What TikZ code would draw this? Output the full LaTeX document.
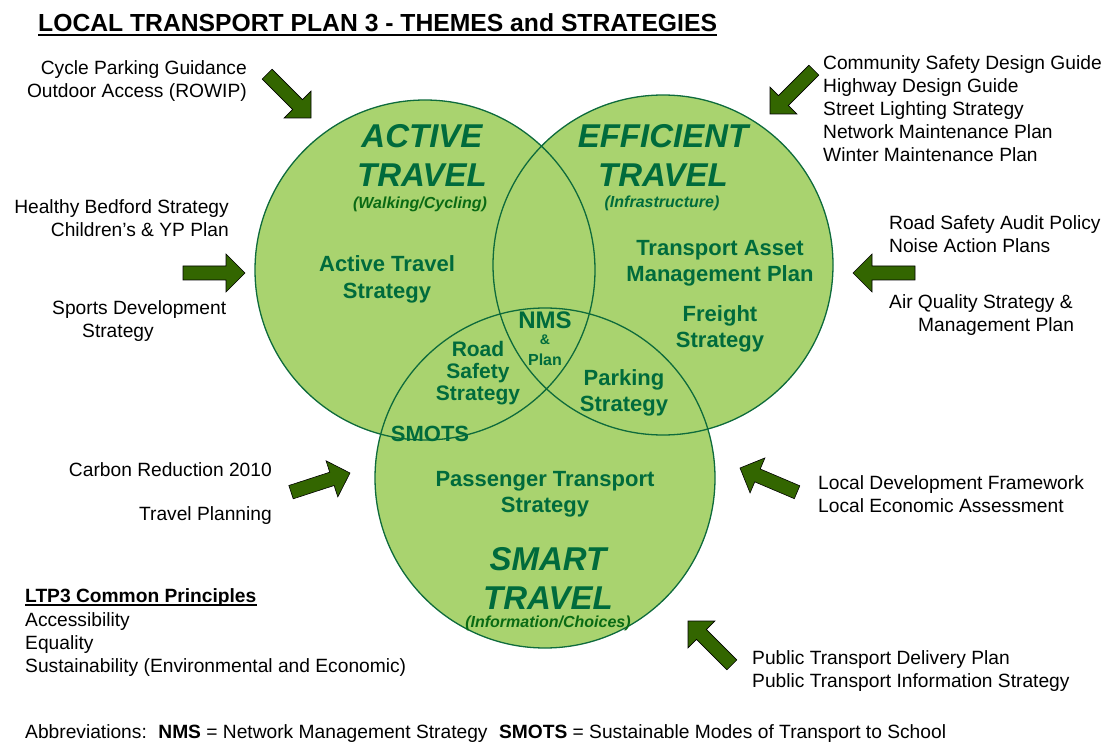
\documentclass[tikz,border=0pt]{standalone}
\usepackage{fontspec}
\setmainfont{Liberation Sans}
\definecolor{circlefill}{HTML}{A9D36F}
\definecolor{circleline}{HTML}{0E6B3C}
\definecolor{themegreen}{HTML}{006B3C}
\definecolor{subgreen}{HTML}{0A6A14}
\definecolor{arrowfill}{HTML}{336600}

\begin{document}
\begin{tikzpicture}[x=1pt, y=-1pt,
    theme/.style = {font=\fontsize{33}{39}\selectfont\bfseries\itshape, text=themegreen, align=center, inner sep=0},
    subtheme/.style = {font=\fontsize{16}{19}\selectfont\bfseries\itshape, inner sep=0},
    strategy/.style = {font=\fontsize{22}{26.5}\selectfont\bfseries, text=themegreen, align=center, inner sep=0},
    plain/.style = {font=\fontsize{19.2}{23}\selectfont, inner sep=0},
    bigarrow/.style = {fill=arrowfill, draw=black, line width=0.6}]
    \useasboundingbox (0,0) rectangle (1111,743);

    % the three circles
    \fill[circlefill] (425,270) circle (170) (663,265) circle (170) (545,478) circle (170);
    \draw[circleline, line width=1.3] (425,270) circle (170) (663,265) circle (170) (545,478) circle (170);

    % the block arrows: tip x / tip y / angle
    \foreach \tx/\ty/\ang in {311/118/-45, 245/273/0, 770/114/-135, 853/273/180,
                              350/473/18, 740/468/157, 688/621/135}
        \draw[bigarrow, shift={(\tx,\ty)}, rotate=\ang]
            (0,0) -- (-19,-19) -- (-19,-7) -- (-62,-7) -- (-62,7) -- (-19,7) -- (-19,19) -- cycle;

    % heading
    \node[anchor=west, inner sep=0, font=\fontsize{24.7}{29}\selectfont\bfseries] (title) at (38,23)
        {LOCAL TRANSPORT PLAN 3 - THEMES and STRATEGIES};
    \draw[line width=2] ([yshift=-3]title.base west) -- ([yshift=-3]title.base east);

    % themes
    \node[theme] (active) at (422,155) {ACTIVE\\TRAVEL};
    \node[subtheme, text=subgreen] (activesub) at (420,204) {(Walking/Cycling)};
    \node[theme] (efficient) at (663,155) {EFFICIENT\\TRAVEL};
    \node[subtheme, text=themegreen] (efficientsub) at (662,203) {(Infrastructure)};
    \node[theme] (smart) at (548,578.5) {SMART\\TRAVEL};
    \node[subtheme, text=subgreen] (smartsub) at (548,623) {(Information/Choices)};

    % strategies
    \node[strategy] (ats) at (387,279.5) {Active Travel\\Strategy};
    \node[strategy] (tamp) at (720,263.5) {Transport Asset\\Management Plan};
    \node[strategy] (freight) at (720,329) {Freight\\Strategy};
    \node[strategy] (parking) at (624,393) {Parking\\Strategy};
    \node[strategy] (pts) at (545,494.5) {Passenger Transport\\Strategy};
    \node[strategy, font=\fontsize{21}{22}\selectfont\bfseries] (rss) at (478,373) {Road\\Safety\\Strategy};
    \node[strategy] (smots) at (430,434) {SMOTS};
    \node[strategy, font=\fontsize{24}{26}\selectfont\bfseries] (nms) at (545,320) {NMS};
    \node[strategy, font=\fontsize{14}{16}\selectfont\bfseries] (amp) at (545,340) {\&};
    \node[strategy, font=\fontsize{16}{18}\selectfont\bfseries] (nmsplan) at (545,360) {Plan};

    % related plans and policies
    \node[plain, anchor=east, align=right] (cycle) at (247,81.5) {Cycle Parking Guidance\\Outdoor Access (ROWIP)};
    \node[plain, anchor=east, align=right] (healthy) at (229,218.5) {Healthy Bedford Strategy\\Children’s \& YP Plan};
    \node[plain, anchor=west, align=left] (sports) at (52,321.5) {Sports Development\\\hspace*{30pt}Strategy};
    \node[plain, anchor=east] (carbon) at (272,470) {Carbon Reduction 2010};
    \node[plain, anchor=east] (travelplan) at (272,516) {Travel Planning};
    \node[plain, anchor=west, align=left] (community) at (823,109)
        {Community Safety Design Guide\\Highway Design Guide\\Street Lighting Strategy\\Network Maintenance Plan\\Winter Maintenance Plan};
    \node[plain, anchor=west, align=left] (audit) at (889,234.5) {Road Safety Audit Policy\\Noise Action Plans};
    \node[plain, anchor=west, align=left] (air) at (889,315.5) {Air Quality Strategy \&\\\hspace*{29pt}Management Plan};
    \node[plain, anchor=west, align=left] (ldf) at (818,494.5) {Local Development Framework\\Local Economic Assessment};
    \node[plain, anchor=west, align=left] (ptdp) at (752,671.5) {Public Transport Delivery Plan\\Public Transport Information Strategy};

    % principles and abbreviations
    \node[plain, anchor=west, font=\fontsize{19.2}{23}\selectfont\bfseries] (ltp) at (25,598) {LTP3 Common Principles};
    \draw[line width=1.6] ([yshift=-2]ltp.base west) -- ([yshift=-2]ltp.base east);
    \node[plain, anchor=north west, align=left] (principles) at ([yshift=-9]ltp.base west)
        {Accessibility\\Equality\\Sustainability (Environmental and Economic)};
    \node[plain, anchor=base west] (abbrev) at (25,738.5)
        {Abbreviations:\hspace{0.6em}\textbf{NMS} = Network Management Strategy\hspace{0.6em}\textbf{SMOTS} = Sustainable Modes of Transport to School};
\end{tikzpicture}
\end{document}
